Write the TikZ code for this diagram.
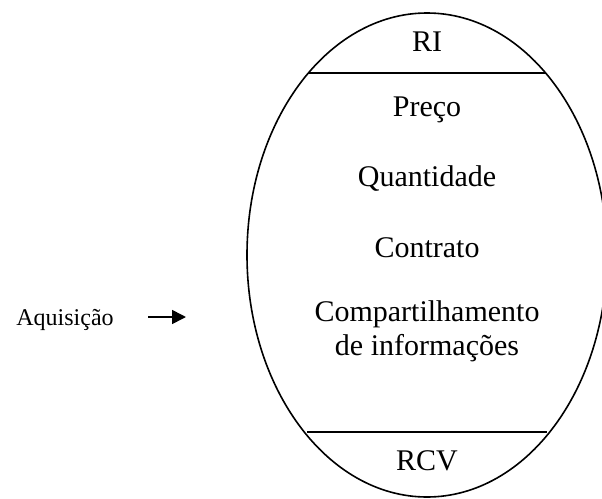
\documentclass[tikz,border=0pt]{standalone}
\usepackage{fontspec}
\setmainfont{Liberation Serif}
\usetikzlibrary{positioning,arrows.meta}

\begin{document}
\begin{tikzpicture}[x=1pt, y=-1pt, line width=1.6pt,
    item/.style={font=\fontsize{30}{34}\selectfont, inner sep=0pt, align=center}]
    \useasboundingbox (0,0) rectangle (602,498);
    \clip (0,0) rectangle (602,498);

    % Outline
    \draw (427,255) ellipse (180 and 242);

    % Dividing lines
    \coordinate (ri-l) at (308,73);
    \coordinate (ri-r) at (546,73);
    \coordinate (rcv-l) at (307,432);
    \coordinate (rcv-r) at (547,432);
    \draw (ri-l) -- (ri-r);
    \draw (rcv-l) -- (rcv-r);

    % Nodes inside
    \node[item] (ri) at (427,42) {RI};
    \node[item] (preco) at (427,110) {Preço};
    \node[item] (qtd) at (427,179) {Quantidade};
    \node[item] (contrato) at (427,248) {Contrato};
    \node[item] (info) at (427,331) {Compartilhamento\\de informações};
    \node[item] (rcv) at (427,461) {RCV};

    % Input
    \node[item, font=\fontsize{24}{28}\selectfont] (acq) at (65,320) {Aquisição};
    \coordinate (tail) at (148,317);
    \coordinate (tip) at (186,317);
    \draw[-{Triangle[length=14pt, width=14pt]}] (tail) -- (tip);
\end{tikzpicture}
\end{document}
